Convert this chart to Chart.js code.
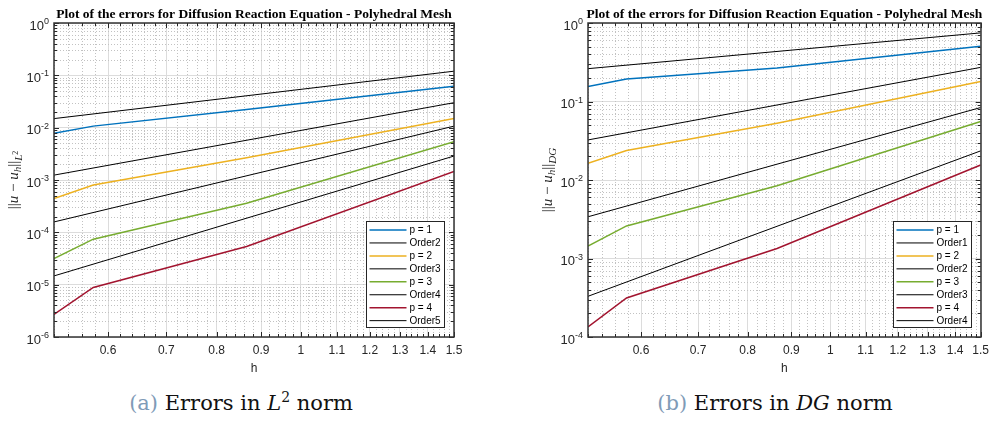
<!DOCTYPE html>
<html>
<head>
<meta charset="utf-8">
<script src="https://cdn.jsdelivr.net/npm/chart.js@4.4.0/dist/chart.umd.min.js"></script>
<style>
  body { margin: 0; background: #fff; width: 995px; height: 421px; position: relative; overflow: hidden; }
  .box { position: absolute; top: 0; height: 382px; }
  #boxL { left: 0; width: 497px; }
  #boxR { left: 497px; width: 498px; }
  .cap { position: absolute; top: 394px; font: 21px "DejaVu Serif", "Liberation Serif", serif; line-height: 19px;
         color: #111; white-space: nowrap; transform: translateX(-50%); }
  .cap .tag { color: #7f9bb7; }
  .cap sup { font-size: 14px; vertical-align: 8px; line-height: 0; }
</style>
</head>
<body>
<div class="box" id="boxL"><canvas id="chartL"></canvas></div>
<div class="box" id="boxR"><canvas id="chartR"></canvas></div>
<div class="cap" style="left:241px"><span class="tag">(a)</span> Errors in <i>L</i><sup>2</sup> norm</div>
<div class="cap" style="left:775px"><span class="tag">(b)</span> Errors in <i>DG</i> norm</div>
<script>
// mesh sizes
const hValues = [0.52, 0.577, 0.866, 1.5];
const orderH = [0.52, 1.5];
const xTicks = [0.6, 0.7, 0.8, 0.9, 1, 1.1, 1.2, 1.3, 1.4, 1.5];

// errors in L2 norm
const l2P1 = [0.0078, 0.0107, 0.0223, 0.0622];
const l2P2 = [0.00044, 0.0008, 0.00265, 0.0150];
const l2P3 = [3.16e-5, 7.4e-5, 3.6e-4, 0.0054];
const l2P4 = [2.7e-6, 8.85e-6, 5.36e-5, 0.00145];
const l2Order2 = [0.0149, 0.120];
const l2Order3 = [0.00124, 0.030];
const l2Order4 = [1.58e-4, 0.0107];
const l2Order5 = [1.47e-5, 0.00287];
const l2Labels = ["p = 1", "Order2", "p = 2", "Order3", "p = 3", "Order4", "p = 4", "Order5"];
const l2Decades = [-6, -5, -4, -3, -2, -1, 0];

// errors in DG norm
const dgP1 = [0.155, 0.193, 0.267, 0.504];
const dgP2 = [0.0163, 0.0237, 0.053, 0.18];
const dgP3 = [0.00144, 0.0026, 0.00846, 0.0555];
const dgP4 = [1.34e-4, 3.14e-4, 1.34e-3, 0.0155];
const dgOrder1 = [0.262, 0.748];
const dgOrder2 = [0.0324, 0.272];
const dgOrder3 = [0.0034, 0.0838];
const dgOrder4 = [3.3e-4, 0.0235];
const dgLabels = ["p = 1", "Order1", "p = 2", "Order2", "p = 3", "Order3", "p = 4", "Order4"];
const dgDecades = [-4, -3, -2, -1, 0];

const colors = ["#0072BD", "#000000", "#EDB120", "#000000", "#77AC30", "#000000", "#A2142F", "#000000"];
const ink = "#262626";
const titleText = "Plot of the errors for Diffusion Reaction Equation - Polyhedral Mesh";

Chart.defaults.font.family = '"Liberation Sans", Arial, sans-serif';

function pts(xs, ys) {
  return xs.map((x, i) => ({ x: x, y: ys[i] }));
}

function minorXValues() {
  const out = [];
  for (let k = 26; k <= 74; k++) {
    if (k % 5 !== 0) out.push(k / 50);
  }
  return out;
}

function minorYValues(decades) {
  const out = [];
  for (let i = 0; i < decades.length - 1; i++) {
    for (let m = 2; m <= 9; m++) out.push(m * Math.pow(10, decades[i]));
  }
  return out;
}

function seg(ctx, x1, y1, x2, y2) {
  ctx.beginPath();
  ctx.moveTo(x1, y1);
  ctx.lineTo(x2, y2);
  ctx.stroke();
}

function drawYTitle(ctx, a, sub) {
  const big = '15px "Liberation Serif", serif';
  const bigI = 'italic 15px "Liberation Serif", serif';
  const small = 'italic 11px "Liberation Serif", serif';
  const tiny = '8px "Liberation Serif", serif';
  const parts = [
    { t: "||", f: big, dy: 0 },
    { t: "u", f: bigI, dy: 0 },
    { t: " \u2212 ", f: big, dy: 0 },
    { t: "u", f: bigI, dy: 0 },
    { t: "h", f: small, dy: 3 },
    { t: "||", f: big, dy: 0 }
  ];
  if (sub === "L2") {
    parts.push({ t: "L", f: small, dy: 4 });
    parts.push({ t: "2", f: tiny, dy: -0.5 });
  } else {
    parts.push({ t: "DG", f: small, dy: 4 });
  }
  let total = 0;
  parts.forEach(p => { ctx.font = p.f; p.w = ctx.measureText(p.t).width; total += p.w; });
  ctx.save();
  ctx.translate(a.left - 40, (a.top + a.bottom) / 2);
  ctx.rotate(-Math.PI / 2);
  ctx.fillStyle = ink;
  ctx.textBaseline = "alphabetic";
  let x = -total / 2;
  parts.forEach(p => {
    ctx.font = p.f;
    ctx.fillText(p.t, x, 4 + p.dy);
    x += p.w;
  });
  ctx.restore();
}

const matlabLook = {
  id: "matlabLook",
  beforeDatasetsDraw(chart, args, opts) {
    const { ctx, chartArea: a, scales } = chart;
    ctx.save();
    ctx.beginPath();
    ctx.rect(a.left, a.top, a.width, a.height);
    ctx.clip();
    ctx.strokeStyle = "#c2c2c2";
    ctx.lineWidth = 1;
    ctx.setLineDash([1, 2]);
    minorXValues().forEach(v => {
      const px = Math.round(scales.x.getPixelForValue(v)) + 0.5;
      seg(ctx, px, a.top, px, a.bottom);
    });
    minorYValues(opts.decades).forEach(v => {
      const py = Math.round(scales.y.getPixelForValue(v)) + 0.5;
      seg(ctx, a.left, py, a.right, py);
    });
    ctx.restore();
  },
  afterDraw(chart, args, opts) {
    const { ctx, chartArea: a, scales } = chart;
    ctx.save();
    // tick marks, pointing inward on all sides
    ctx.strokeStyle = ink;
    ctx.lineWidth = 1;
    xTicks.forEach(v => {
      const px = Math.round(scales.x.getPixelForValue(v)) + 0.5;
      seg(ctx, px, a.bottom, px, a.bottom - 5);
      seg(ctx, px, a.top, px, a.top + 5);
    });
    minorXValues().forEach(v => {
      const px = Math.round(scales.x.getPixelForValue(v)) + 0.5;
      seg(ctx, px, a.bottom, px, a.bottom - 3);
      seg(ctx, px, a.top, px, a.top + 3);
    });
    opts.decades.forEach(e => {
      const py = Math.round(scales.y.getPixelForValue(Math.pow(10, e))) + 0.5;
      seg(ctx, a.left, py, a.left + 5, py);
      seg(ctx, a.right, py, a.right - 5, py);
    });
    minorYValues(opts.decades).forEach(v => {
      const py = Math.round(scales.y.getPixelForValue(v)) + 0.5;
      seg(ctx, a.left, py, a.left + 3, py);
      seg(ctx, a.right, py, a.right - 3, py);
    });
    // axes box
    ctx.strokeStyle = "#333";
    ctx.lineWidth = 1.5;
    ctx.strokeRect(Math.round(a.left), Math.round(a.top), Math.round(a.width), Math.round(a.height));

    // y tick labels 10^k
    ctx.fillStyle = ink;
    ctx.textBaseline = "alphabetic";
    opts.decades.forEach(e => {
      const py = scales.y.getPixelForValue(Math.pow(10, e));
      const supTxt = String(e);
      ctx.font = '9px "Liberation Sans", Arial, sans-serif';
      const ws = ctx.measureText(supTxt).width;
      ctx.font = '13px "Liberation Sans", Arial, sans-serif';
      const wb = ctx.measureText("10").width;
      const r = a.left - 5;
      ctx.fillText("10", r - ws - wb, py + 6.5);
      ctx.font = '9px "Liberation Sans", Arial, sans-serif';
      ctx.fillText(supTxt, r - ws, py + 1);
    });

    // axis title with subscripts
    drawYTitle(ctx, a, opts.sub);

    // plot title
    ctx.fillStyle = "#000";
    ctx.font = 'bold 13.5px "Liberation Serif", "Times New Roman", serif';
    ctx.textAlign = "center";
    ctx.fillText(titleText, (a.left + a.right) / 2, a.top - 5);
    ctx.textAlign = "left";

    // legend box
    const sets = chart.data.datasets;
    const bw = 78, bh = 106;
    const bx = Math.round(a.right - 10 - bw) + 0.5;
    const by = Math.round(a.bottom - 10 - bh) + 0.5;
    ctx.fillStyle = "#fff";
    ctx.fillRect(bx, by, bw, bh);
    ctx.strokeStyle = ink;
    ctx.lineWidth = 1;
    ctx.strokeRect(bx, by, bw, bh);
    ctx.font = '10px "Liberation Sans", Arial, sans-serif';
    ctx.textBaseline = "middle";
    sets.forEach((ds, i) => {
      const ry = by + 8.5 + i * 12.95;
      ctx.strokeStyle = ds.borderColor;
      ctx.lineWidth = ds.borderWidth;
      seg(ctx, bx + 3, ry, bx + 40, ry);
      ctx.fillStyle = "#000";
      ctx.fillText(ds.label, bx + 43, ry + 0.5);
    });
    ctx.restore();
  }
};

function makeChart(id, series, labels, decades, sub, padLeft, padRight) {
  const datasets = series.map((s, i) => ({
    label: labels[i],
    data: pts(s.length === 2 ? orderH : hValues, s),
    borderColor: colors[i],
    backgroundColor: colors[i],
    borderWidth: colors[i] === "#000000" ? 1 : 1.5,
    pointRadius: 0,
    tension: 0,
    fill: false
  }));
  return new Chart(document.getElementById(id), {
    type: "line",
    data: { datasets: datasets },
    plugins: [matlabLook],
    options: {
      responsive: true,
      maintainAspectRatio: false,
      animation: false,
      layout: { padding: { left: padLeft, right: padRight, top: 23, bottom: 0 } },
      plugins: {
        legend: { display: false },
        tooltip: { enabled: false },
        matlabLook: { decades: decades, sub: sub }
      },
      scales: {
        x: {
          type: "logarithmic",
          min: hValues[0],
          max: 1.5,
          afterBuildTicks: scale => { scale.ticks = xTicks.map(v => ({ value: v })); },
          afterFit: scale => { scale.height = 45; },
          ticks: {
            autoSkip: false,
            maxRotation: 0,
            padding: 6,
            color: ink,
            font: { size: 12 },
            callback: value => String(value)
          },
          grid: { color: "#dcdcdc", drawTicks: false, lineWidth: 1 },
          border: { display: false },
          title: { display: true, text: "h", color: ink, font: { size: 12 }, padding: { top: 0, bottom: 6 } }
        },
        y: {
          type: "logarithmic",
          min: Math.pow(10, decades[0]),
          max: Math.pow(10, decades[decades.length - 1]),
          afterBuildTicks: scale => { scale.ticks = decades.map(e => ({ value: Math.pow(10, e) })); },
          afterFit: scale => { scale.width = 0; },
          ticks: { display: false },
          grid: { color: "#dcdcdc", drawTicks: false, lineWidth: 1 },
          border: { display: false }
        }
      }
    }
  });
}

makeChart("chartL",
  [l2P1, l2Order2, l2P2, l2Order3, l2P3, l2Order4, l2P4, l2Order5],
  l2Labels, l2Decades, "L2", 54, 43);

makeChart("chartR",
  [dgP1, dgOrder1, dgP2, dgOrder2, dgP3, dgOrder3, dgP4, dgOrder4],
  dgLabels, dgDecades, "DG", 91, 8);
</script>
</body>
</html>
